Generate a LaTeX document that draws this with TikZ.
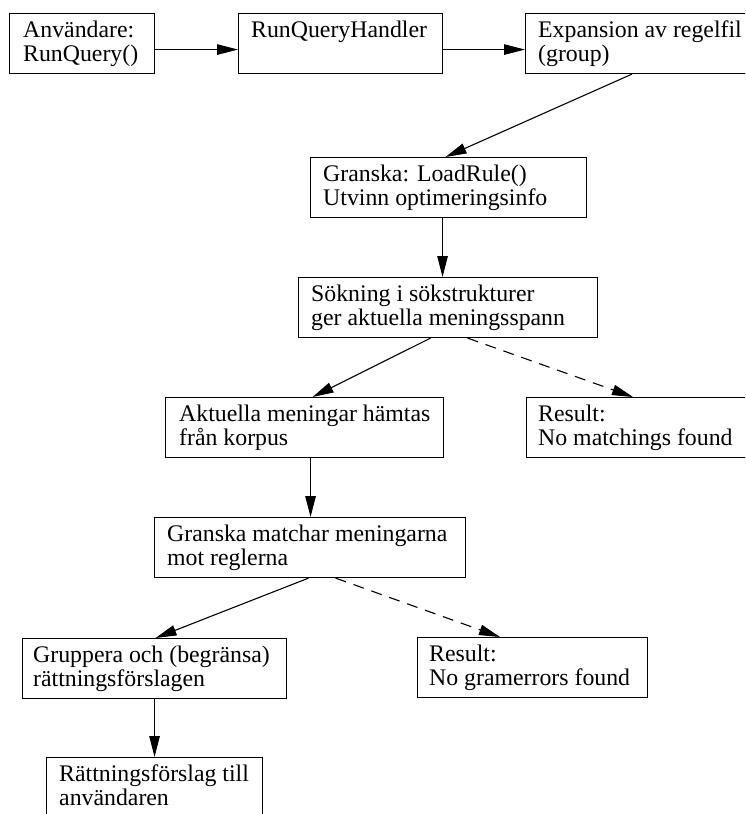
\documentclass[tikz,border=0pt]{standalone}
\usepackage{fontspec}
\setmainfont{Liberation Serif}
\usetikzlibrary{arrows.meta}

% two-line box label, baseline on the first line
\newcommand\boxlines[1]{\begin{tabular}[t]{@{}l@{}}#1\end{tabular}}

\begin{document}
\begin{tikzpicture}[x=1pt,y=-1pt,
  stagebox/.style={draw, line width=1.1pt, rectangle, inner sep=0pt,
    minimum height=60pt, anchor=north west},
  boxtext/.style={inner sep=0pt, anchor=base west,
    font=\fontsize{23.8}{23.5}\selectfont},
  flow/.style={line width=1.1pt, -{Triangle[length=21pt,width=10.5pt]}},
  altflow/.style={flow, dash pattern=on 11pt off 8pt}]

\useasboundingbox (0,0) rectangle (745,814);
\fill[white] (0,0) rectangle (745,814);
\clip (0,0) rectangle (745,814);

% stages
\node[stagebox, minimum width=145pt] (user)   at (9,13)   {};
\node[stagebox, minimum width=204pt] (handler) at (238,13) {};
\node[stagebox, minimum width=240pt] (expand) at (525,13)  {};
\node[stagebox, minimum width=276pt] (load)   at (310,157) {};
\node[stagebox, minimum width=299pt] (search) at (298,277) {};
\node[stagebox, minimum width=278pt] (fetch)  at (165,397) {};
\node[stagebox, minimum width=240pt] (nomatch) at (526,397) {};
\node[stagebox, minimum width=311pt] (match)  at (154,517) {};
\node[stagebox, minimum width=264pt] (group)  at (22,638)  {};
\node[stagebox, minimum width=230pt] (noerr)  at (417,637) {};
\node[stagebox, minimum width=216pt, minimum height=80pt] (suggest) at (46,757) {};

% labels
\node[boxtext] (userT)    at ([shift={(14pt,-24.5pt)}]user.north west)    {\boxlines{Användare:\\RunQuery()}};
\node[boxtext] (handlerT) at ([shift={(13pt,-24.5pt)}]handler.north west) {RunQueryHandler};
\node[boxtext] (expandT)  at ([shift={(13pt,-24.5pt)}]expand.north west)  {\boxlines{Expansion av regelfil\\(group)}};
\node[boxtext] (loadT)    at ([shift={(13pt,-24.5pt)}]load.north west)    {\boxlines{Granska: LoadRule()\\Utvinn optimeringsinfo}};
\node[boxtext] (searchT)  at ([shift={(13pt,-24.5pt)}]search.north west)  {\boxlines{Sökning i sökstrukturer\\ger aktuella meningsspann}};
\node[boxtext] (fetchT)   at ([shift={(14pt,-24.5pt)}]fetch.north west)   {\boxlines{Aktuella meningar hämtas\\från korpus}};
\node[boxtext] (nomatchT) at ([shift={(12pt,-24.5pt)}]nomatch.north west) {\boxlines{Result:\\No matchings found}};
\node[boxtext] (matchT)   at ([shift={(13pt,-24.5pt)}]match.north west)   {\boxlines{Granska matchar meningarna\\mot reglerna}};
\node[boxtext] (groupT)   at ([shift={(11pt,-24.5pt)}]group.north west)   {\boxlines{Gruppera och (begränsa)\\rättningsförslagen}};
\node[boxtext] (noerrT)   at ([shift={(12pt,-24.5pt)}]noerr.north west)   {\boxlines{Result:\\No gramerrors found}};
\node[boxtext] (suggestT) at ([shift={(13pt,-24.5pt)}]suggest.north west) {\boxlines{Rättningsförslag till\\användaren}};

% connectors
\draw[flow] ([yshift=-6pt]user.east) -- ([yshift=-6pt]user.east -| handler.west);
\draw[flow] ([yshift=-6pt]handler.east) -- ([yshift=-6pt]handler.east -| expand.west);
\draw[flow] ([xshift=107pt]expand.south west) -- ([xshift=-3pt]load.north);
\draw[flow] ([xshift=-6pt]load.south) -- ([xshift=-6pt]load.south |- search.north);
\draw[flow] ([xshift=-17.5pt]search.south) -- ([xshift=8pt]fetch.north);
\draw[altflow] ([xshift=19.5pt]search.south) -- ([xshift=107pt]nomatch.north west);
\draw[flow] ([xshift=6pt]fetch.south) -- ([xshift=6pt]fetch.south |- match.north);
\draw[flow] ([xshift=-1.5pt]match.south) -- ([xshift=1pt]group.north);
\draw[altflow] ([xshift=25.5pt]match.south) -- ([xshift=83pt]noerr.north west);
\draw[flow] (group.south) -- (group.south |- suggest.north);
\end{tikzpicture}
\end{document}
